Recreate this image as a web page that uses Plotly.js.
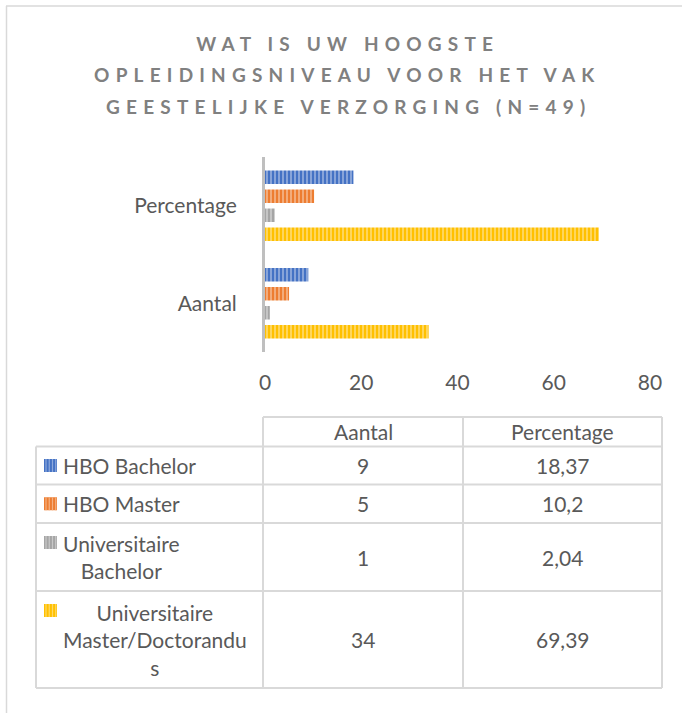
<!DOCTYPE html>
<html>
<head>
<meta charset="utf-8">
<script src="https://cdn.plot.ly/plotly-3.0.1.min.js"></script>
<style>html,body{margin:0;padding:0;background:#fff;}</style>
</head>
<body>
<div id="chart" style="width:682px;height:713px;"></div>
<script>
// ---- data ----
const categories = ['Aantal', 'Percentage'];
const seriesNames = ['HBO Bachelor', 'HBO Master', 'Universitaire Bachelor', 'Universitaire Master/Doctorandus'];
const tableLabels = ['HBO Bachelor', 'HBO Master', 'Universitaire<br>Bachelor', 'Universitaire<br>Master/Doctorandu<br>s'];
const hboBachelor = [9, 18.37];
const hboMaster = [5, 10.2];
const uniBachelor = [1, 2.04];
const uniMaster = [34, 69.39];
const xTickValues = [0, 20, 40, 60, 80];
const titleLines = ['WAT IS UW HOOGSTE', 'OPLEIDINGSNIVEAU VOOR HET VAK', 'GEESTELIJKE VERZORGING (N=49)'];

// ---- styling ----
const seriesValues = [hboBachelor, hboMaster, uniBachelor, uniMaster];
const baseColors = ['#4472C4', '#ED7D31', '#A5A5A5', '#FFC000'];
const stripeColors = ['#8FAADC', '#F4B183', '#C9C9C9', '#FFD966'];
const FONT = 'Lato, "Open Sans", sans-serif';
const TXT = '#595959';
const LINE = '#D9D9D9';

// pixel frame of plot area
const L = 265, R = 650, T = 157, B = 352;
const W = R - L, H = B - T;
const xp = px => (px - L) / W;
const yp = py => (B - py) / H;

const traces = seriesNames.map((name, i) => ({
  type: 'bar', orientation: 'h', name: name,
  y: categories, x: seriesValues[i],
  marker: {
    color: baseColors[i],
    line: {width: 0},
    pattern: {shape: '|', fillmode: 'overlay', fgcolor: stripeColors[i], fgopacity: 1, size: 4, solidity: 0.45}
  },
  hoverinfo: 'skip'
}));

const shapes = [];
const annotations = [];

// title lines
const titleY = [43, 75, 106];
titleLines.forEach((t, i) => {
  annotations.push({xref: 'paper', yref: 'paper', x: xp(348), y: yp(titleY[i]),
    xanchor: 'center', yanchor: 'middle', showarrow: false, text: '<b>' + t + '</b>',
    font: {family: FONT, size: 19, color: '#808080'}});
});

// outer frame (top and left edges)
shapes.push({type: 'line', xref: 'paper', yref: 'paper', x0: xp(6), x1: xp(682), y0: yp(6), y1: yp(6), line: {color: LINE, width: 1.5}});
shapes.push({type: 'line', xref: 'paper', yref: 'paper', x0: xp(6.5), x1: xp(6.5), y0: yp(6), y1: yp(713), line: {color: LINE, width: 1.5}});

// data table
const colX = [36, 263, 463, 662];
const headTop = 417;
const rowY = [446.5, 484.5, 523, 591, 688];
const tl = (x0, y0, x1, y1) => shapes.push({type: 'line', xref: 'paper', yref: 'paper',
  x0: xp(x0), x1: xp(x1), y0: yp(y0), y1: yp(y1), line: {color: LINE, width: 2}});
tl(colX[1], headTop, colX[3], headTop);
rowY.forEach(y => tl(colX[0], y, colX[3], y));
tl(colX[0], rowY[0], colX[0], rowY[rowY.length - 1]);
for (let c = 1; c < 4; c++) tl(colX[c], headTop, colX[c], rowY[rowY.length - 1]);

const cellFont = {family: FONT, size: 21, color: TXT};
const colCenters = [(colX[1] + colX[2]) / 2, (colX[2] + colX[3]) / 2];
categories.forEach((cat, j) => {
  annotations.push({xref: 'paper', yref: 'paper', x: xp(colCenters[j]), y: yp((headTop + rowY[0]) / 2),
    xanchor: 'center', yanchor: 'middle', showarrow: false, text: cat, font: cellFont});
});
const fmt = v => String(v).replace('.', ',');
const lineStep = 29;
seriesNames.forEach((name, i) => {
  const yc = (rowY[i] + rowY[i + 1]) / 2;
  const nLines = tableLabels[i].split('<br>').length;
  annotations.push({xref: 'paper', yref: 'paper', x: xp(61), y: yp(yc),
    xanchor: 'left', yanchor: 'middle', align: 'center', showarrow: false,
    text: tableLabels[i], font: cellFont});
  seriesValues[i].forEach((v, j) => {
    annotations.push({xref: 'paper', yref: 'paper', x: xp(colCenters[j]), y: yp(yc),
      xanchor: 'center', yanchor: 'middle', showarrow: false, text: fmt(v), font: cellFont});
  });
  // legend key with stripes
  const ky = yc - (nLines - 1) / 2 * lineStep;
  const k0 = 44, k1 = 57;
  shapes.push({type: 'rect', xref: 'paper', yref: 'paper', x0: xp(k0), x1: xp(k1), y0: yp(ky - 6.5), y1: yp(ky + 6.5),
    fillcolor: baseColors[i], line: {width: 0}});
  for (let s = k0 + 2; s < k1; s += 3.25) {
    shapes.push({type: 'line', xref: 'paper', yref: 'paper', x0: xp(s), x1: xp(s), y0: yp(ky - 6.5), y1: yp(ky + 6.5),
      line: {color: stripeColors[i], width: 1.2}});
  }
});

const layout = {
  width: 682, height: 713,
  margin: {l: L, r: 682 - R, t: T, b: 713 - B, pad: 0},
  paper_bgcolor: '#ffffff', plot_bgcolor: '#ffffff',
  showlegend: false, hovermode: false,
  barmode: 'group', bargap: 0.22, bargroupgap: 0.29,
  font: {family: FONT, color: TXT},
  xaxis: {range: [0, 80], tickvals: xTickValues, ticktext: xTickValues.map(String),
    showgrid: false, zeroline: false, showline: false, ticks: '',
    tickfont: {family: FONT, size: 21, color: TXT}, ticklabelstandoff: 16, fixedrange: true},
  yaxis: {type: 'category', categoryorder: 'array', categoryarray: ['Percentage', 'Aantal'],
    autorange: 'reversed', showgrid: false, zeroline: false,
    showline: true, linecolor: '#BFBFBF', linewidth: 3, ticks: '',
    tickfont: {family: FONT, size: 21, color: TXT}, ticklabelstandoff: 21, fixedrange: true},
  shapes: shapes,
  annotations: annotations
};

Plotly.newPlot('chart', traces, layout, {displayModeBar: false, staticPlot: true}).then(gd => {
  gd.querySelectorAll('.annotation').forEach(a => {
    const idx = +a.getAttribute('data-index');
    if (idx < titleLines.length) {
      const t = a.querySelector('text');
      if (t) t.style.letterSpacing = '6.2px';
    }
  });
});
</script>
</body>
</html>
